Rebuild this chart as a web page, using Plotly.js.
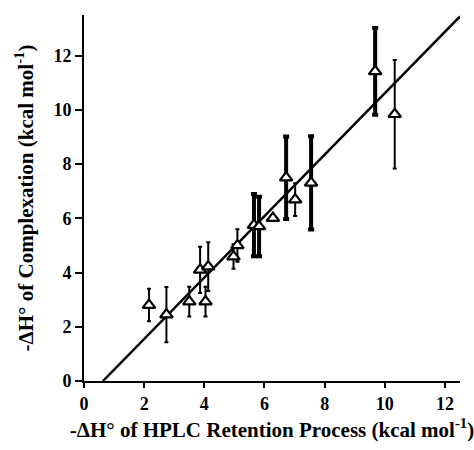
<!DOCTYPE html>
<html>
<head>
<meta charset="utf-8">
<script src="https://cdn.plot.ly/plotly-3.0.1.min.js"></script>
<style>html,body{margin:0;padding:0;background:#fff;}#chart{width:474px;height:450px;}</style>
</head>
<body>
<div id="chart"></div>
<script>
// thin error-bar points
const thinX   = [2.16, 2.74, 3.50, 4.04, 3.86, 4.13, 4.97, 5.10, 6.28, 7.02, 10.33];
const thinY   = [2.80, 2.45, 2.93, 2.93, 4.10, 4.22, 4.59, 5.00, 6.01, 6.69, 9.84];
const thinErr = [0.60, 1.02, 0.55, 0.55, 0.85, 0.90, 0.45, 0.60, 0.00, 0.60, 2.00];
// thick error-bar points
const thickX   = [5.65, 5.82, 6.72, 7.55, 9.68];
const thickY   = [5.75, 5.70, 7.50, 7.31, 11.42];
const thickErr = [1.15, 1.10, 1.52, 1.72, 1.60];
// fitted line
const fitSlope = 1.133;
const fitIntercept = -0.714;
const xTicks = [0, 2, 4, 6, 8, 10, 12];
const yTicks = [0, 2, 4, 6, 8, 10, 12];

const xRange = [0, 12.5];
const yRange = [0, 13.5];
const fitX = [-fitIntercept / fitSlope, xRange[1]];
const fitY = fitX.map(x => fitSlope * x + fitIntercept);

const markerStyle = {symbol: 'triangle-up', size: 11, color: '#fff', line: {color: '#000', width: 2.2}};

const traces = [
  {x: fitX, y: fitY, mode: 'lines', line: {color: '#000', width: 2.5}, hoverinfo: 'none'},
  {x: thickX, y: thickY, mode: 'markers', marker: markerStyle,
   error_y: {type: 'data', array: thickErr, visible: true, color: '#000', thickness: 4, width: 3}},
  {x: thinX, y: thinY, mode: 'markers', marker: markerStyle,
   error_y: {type: 'data', array: thinErr, visible: true, color: '#000', thickness: 2, width: 2}}
];

const font = {family: '"Liberation Serif", "Times New Roman", serif', color: '#000'};
const layout = {
  width: 474, height: 450,
  margin: {l: 84, r: 14, t: 15, b: 69},
  showlegend: false,
  paper_bgcolor: '#fff', plot_bgcolor: '#fff',
  font: font,
  xaxis: {
    range: xRange, tickvals: xTicks, ticktext: xTicks.map(String),
    showgrid: false, zeroline: false, showline: true, linecolor: '#000', linewidth: 2,
    ticks: 'outside', ticklen: 5, tickwidth: 2, tickcolor: '#000',
    tickfont: {family: font.family, size: 18, color: '#000', weight: 'bold'},
    title: {text: '-ΔH° of HPLC Retention Process (kcal mol<sup>-1</sup>)', standoff: 10,
            font: {family: font.family, size: 21, color: '#000', weight: 'bold'}}
  },
  yaxis: {
    range: yRange, tickvals: yTicks, ticktext: yTicks.map(String),
    showgrid: false, zeroline: false, showline: true, linecolor: '#000', linewidth: 2,
    ticks: 'outside', ticklen: 7, tickwidth: 2, tickcolor: '#000',
    tickfont: {family: font.family, size: 18, color: '#000', weight: 'bold'},
    title: {text: '-ΔH° of Complexation (kcal mol<sup>-1</sup>)', standoff: 14,
            font: {family: font.family, size: 21, color: '#000', weight: 'bold'}}
  }
};

Plotly.newPlot('chart', traces, layout, {displayModeBar: false, staticPlot: true});
</script>
</body>
</html>
